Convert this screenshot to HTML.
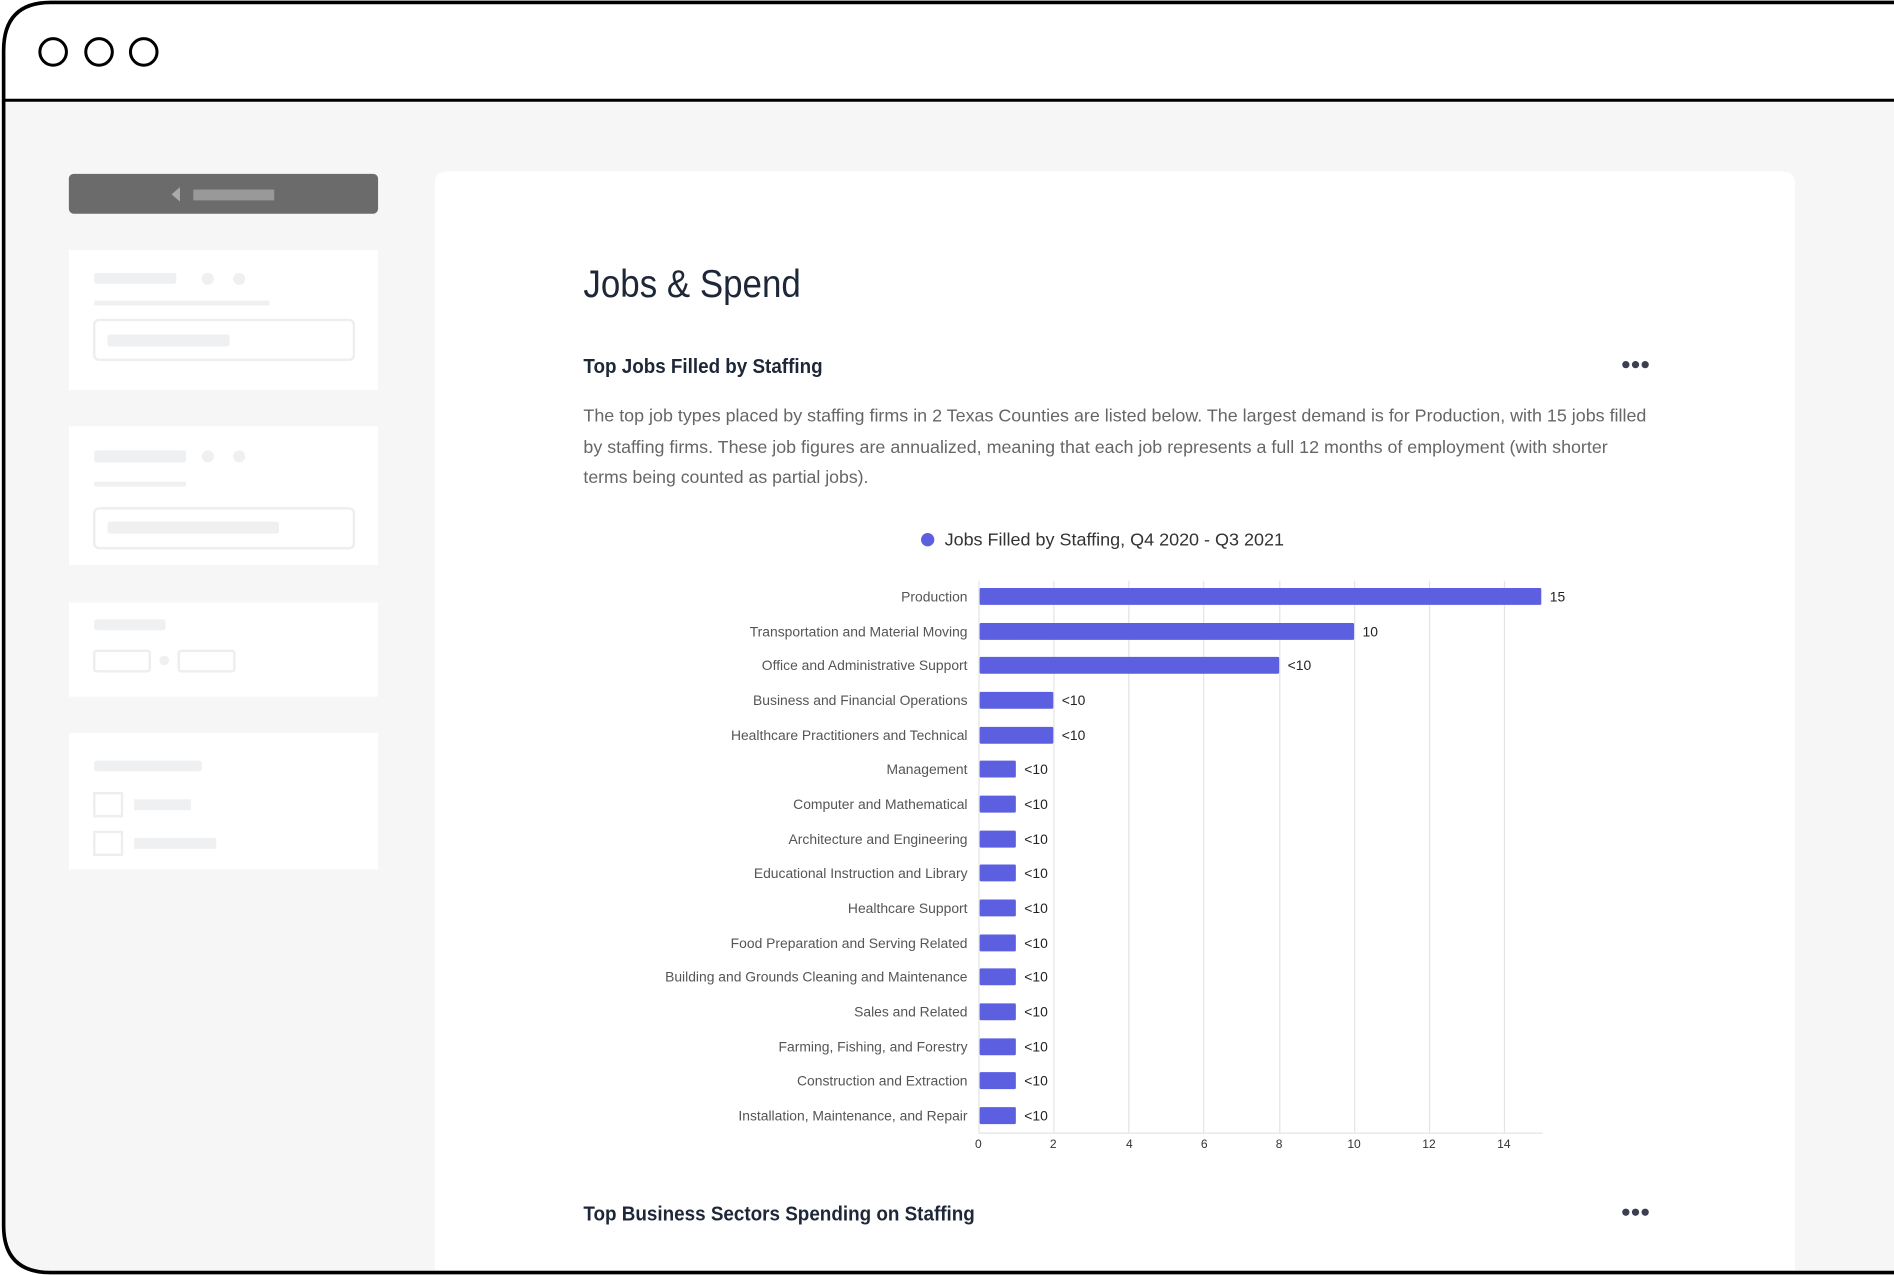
<!DOCTYPE html>
<html><head><meta charset="utf-8"><style>
html,body{margin:0;padding:0;width:1894px;height:1275px;overflow:hidden;background:#fff}
svg{display:block}
text{font-family:"Liberation Sans",sans-serif}
</style></head><body>
<svg width="1894" height="1275" viewBox="0 0 1568 1056" preserveAspectRatio="none" xmlns="http://www.w3.org/2000/svg">
<rect x="0" y="0" width="1568" height="1056" fill="#fff"/>
<path d="M3,84 H1568 V1054 H40 Q3,1054 3,1017 Z" fill="#f6f6f6"/>
<path d="M1568,2 H42 Q3,2 3,42 V1015 Q3,1054 42,1054 H1568" fill="none" stroke="#000" stroke-width="3"/>
<line x1="3" y1="83" x2="1568" y2="83" stroke="#000" stroke-width="2.5"/>
<circle cx="44" cy="43" r="11" fill="none" stroke="#000" stroke-width="2.5"/>
<circle cx="82" cy="43" r="11" fill="none" stroke="#000" stroke-width="2.5"/>
<circle cx="119" cy="43" r="11" fill="none" stroke="#000" stroke-width="2.5"/>
<!-- sidebar -->
<rect x="57" y="144" width="256" height="33" rx="4" fill="#6b6b6b"/>
<polygon points="142,161 149,155 149,167" fill="#aaa"/>
<rect x="160" y="157" width="67" height="9" fill="#999"/>
<rect x="57" y="207" width="256" height="116" fill="#fff"/>
<rect x="78" y="226" width="68" height="9" rx="2" fill="#eef0f1"/>
<circle cx="172" cy="231" r="5" fill="#eef0f1"/><circle cx="198" cy="231" r="5" fill="#eef0f1"/>
<rect x="78" y="249" width="145" height="4" fill="#eef0f1"/>
<rect x="78" y="265" width="215" height="33" rx="4" fill="#fff" stroke="#eceeef" stroke-width="2"/>
<rect x="89" y="277" width="101" height="10" rx="2" fill="#eef0f1"/>
<rect x="57" y="353" width="256" height="115" fill="#fff"/>
<rect x="78" y="373" width="76" height="10" rx="2" fill="#eef0f1"/>
<circle cx="172" cy="378" r="5" fill="#eef0f1"/><circle cx="198" cy="378" r="5" fill="#eef0f1"/>
<rect x="78" y="399" width="76" height="4" fill="#eef0f1"/>
<rect x="78" y="421" width="215" height="33" rx="4" fill="#fff" stroke="#eceeef" stroke-width="2"/>
<rect x="89" y="432" width="142" height="10" rx="2" fill="#eef0f1"/>
<rect x="57" y="499" width="256" height="78" fill="#fff"/>
<rect x="78" y="513" width="59" height="9" rx="2" fill="#eef0f1"/>
<rect x="78" y="539" width="46" height="17" rx="2" fill="#fff" stroke="#eceeef" stroke-width="2"/>
<circle cx="136" cy="547" r="4" fill="#eef0f1"/>
<rect x="148" y="539" width="46" height="17" rx="2" fill="#fff" stroke="#eceeef" stroke-width="2"/>
<rect x="57" y="607" width="256" height="113" fill="#fff"/>
<rect x="78" y="630" width="89" height="9" rx="2" fill="#eef0f1"/>
<rect x="78" y="657" width="23" height="19" fill="#fff" stroke="#eceeef" stroke-width="2"/>
<rect x="111" y="662" width="47" height="9" fill="#eef0f1"/>
<rect x="78" y="689" width="23" height="19" fill="#fff" stroke="#eceeef" stroke-width="2"/>
<rect x="111" y="694" width="68" height="9" fill="#eef0f1"/>
<!-- main panel -->
<path d="M360,1052 V152 Q360,142 370,142 H1476 Q1486,142 1486,152 V1052 Z" fill="#fff"/>
<text x="483" y="246" font-size="32" fill="#1e2738" textLength="180" lengthAdjust="spacingAndGlyphs">Jobs &amp; Spend</text>
<text x="483" y="309" font-size="17" font-weight="bold" fill="#1e2738" textLength="198" lengthAdjust="spacingAndGlyphs">Top Jobs Filled by Staffing</text>
<circle cx="1346" cy="302" r="3" fill="#3b4050"/><circle cx="1354" cy="302" r="3" fill="#3b4050"/><circle cx="1362" cy="302" r="3" fill="#3b4050"/>
<g font-size="14.5" fill="#666">
<text x="483" y="349" textLength="880" lengthAdjust="spacingAndGlyphs">The top job types placed by staffing firms in 2 Texas Counties are listed below. The largest demand is for Production, with 15 jobs filled</text>
<text x="483" y="375" textLength="848" lengthAdjust="spacingAndGlyphs">by staffing firms. These job figures are annualized, meaning that each job represents a full 12 months of employment (with shorter</text>
<text x="483" y="400" textLength="236" lengthAdjust="spacingAndGlyphs">terms being counted as partial jobs).</text>
</g>
<circle cx="768" cy="447" r="5.5" fill="#5b5fe0"/>
<text x="782" y="452" font-size="14.5" fill="#333" textLength="281" lengthAdjust="spacingAndGlyphs">Jobs Filled by Staffing, Q4 2020 - Q3 2021</text>
<!-- grid -->
<g stroke="#e4e4e4" stroke-width="1">
<line x1="810.5" y1="481" x2="810.5" y2="938"/>
<line x1="872.5" y1="481" x2="872.5" y2="938"/>
<line x1="934.5" y1="481" x2="934.5" y2="938"/>
<line x1="996.5" y1="481" x2="996.5" y2="938"/>
<line x1="1059.5" y1="481" x2="1059.5" y2="938"/>
<line x1="1121.5" y1="481" x2="1121.5" y2="938"/>
<line x1="1183.5" y1="481" x2="1183.5" y2="938"/>
<line x1="1245.5" y1="481" x2="1245.5" y2="938"/>
<line x1="810" y1="938.5" x2="1277" y2="938.5"/>
</g>
<g font-size="10" fill="#333" text-anchor="middle">
<text x="810" y="951">0</text><text x="872" y="951">2</text><text x="935" y="951">4</text><text x="997" y="951">6</text><text x="1059" y="951">8</text><text x="1121" y="951">10</text><text x="1183" y="951">12</text><text x="1245" y="951">14</text>
</g>
<g fill="#5b5fe0">
<rect x="811" y="487" width="465" height="14" rx="1"/>
<rect x="811" y="516" width="310" height="14" rx="1"/>
<rect x="811" y="544" width="248" height="14" rx="1"/>
<rect x="811" y="573" width="61" height="14" rx="1"/>
<rect x="811" y="602" width="61" height="14" rx="1"/>
<rect x="811" y="630" width="30" height="14" rx="1"/>
<rect x="811" y="659" width="30" height="14" rx="1"/>
<rect x="811" y="688" width="30" height="14" rx="1"/>
<rect x="811" y="716" width="30" height="14" rx="1"/>
<rect x="811" y="745" width="30" height="14" rx="1"/>
<rect x="811" y="774" width="30" height="14" rx="1"/>
<rect x="811" y="802" width="30" height="14" rx="1"/>
<rect x="811" y="831" width="30" height="14" rx="1"/>
<rect x="811" y="860" width="30" height="14" rx="1"/>
<rect x="811" y="888" width="30" height="14" rx="1"/>
<rect x="811" y="917" width="30" height="14" rx="1"/>
</g>
<g font-size="11.5" fill="#555" text-anchor="end">
<text x="801" y="498">Production</text>
<text x="801" y="527">Transportation and Material Moving</text>
<text x="801" y="555">Office and Administrative Support</text>
<text x="801" y="584">Business and Financial Operations</text>
<text x="801" y="613">Healthcare Practitioners and Technical</text>
<text x="801" y="641">Management</text>
<text x="801" y="670">Computer and Mathematical</text>
<text x="801" y="699">Architecture and Engineering</text>
<text x="801" y="727">Educational Instruction and Library</text>
<text x="801" y="756">Healthcare Support</text>
<text x="801" y="785">Food Preparation and Serving Related</text>
<text x="801" y="813">Building and Grounds Cleaning and Maintenance</text>
<text x="801" y="842">Sales and Related</text>
<text x="801" y="871">Farming, Fishing, and Forestry</text>
<text x="801" y="899">Construction and Extraction</text>
<text x="801" y="928">Installation, Maintenance, and Repair</text>
</g>
<g font-size="11.5" fill="#222">
<text x="1283" y="498">15</text>
<text x="1128" y="527">10</text>
<text x="1066" y="555">&lt;10</text>
<text x="879" y="584">&lt;10</text>
<text x="879" y="613">&lt;10</text>
<text x="848" y="641">&lt;10</text>
<text x="848" y="670">&lt;10</text>
<text x="848" y="699">&lt;10</text>
<text x="848" y="727">&lt;10</text>
<text x="848" y="756">&lt;10</text>
<text x="848" y="785">&lt;10</text>
<text x="848" y="813">&lt;10</text>
<text x="848" y="842">&lt;10</text>
<text x="848" y="871">&lt;10</text>
<text x="848" y="899">&lt;10</text>
<text x="848" y="928">&lt;10</text>
</g>
<text x="483" y="1011" font-size="17" font-weight="bold" fill="#1e2738" textLength="324" lengthAdjust="spacingAndGlyphs">Top Business Sectors Spending on Staffing</text>
<circle cx="1346" cy="1004" r="3" fill="#3b4050"/><circle cx="1354" cy="1004" r="3" fill="#3b4050"/><circle cx="1362" cy="1004" r="3" fill="#3b4050"/>
</svg>
</body></html>
